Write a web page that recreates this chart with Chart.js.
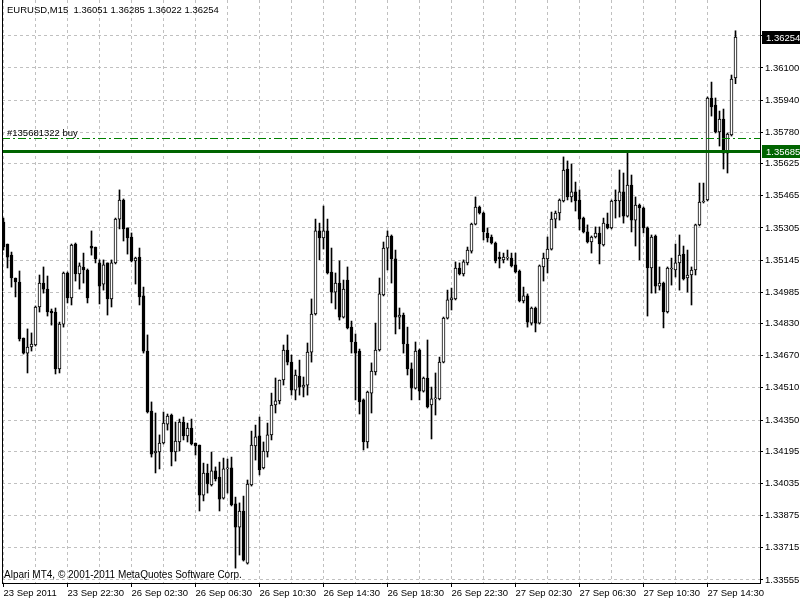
<!DOCTYPE html>
<html>
<head>
<meta charset="utf-8">
<title>EURUSD,M15</title>
<script src="https://cdn.jsdelivr.net/npm/chart.js@4.4.1/dist/chart.umd.min.js"></script>
<style>
  html, body { margin: 0; padding: 0; background: #fff; }
  canvas { display: block; }
</style>
</head>
<body>
<canvas id="chart" width="800" height="600"></canvas>
<script>
// EURUSD M15 candles, 23 Sep 2011 18:30 -> 27 Sep 2011 16:15
const timeLabels = ['23 Sep 2011', '23 Sep 22:30', '26 Sep 02:30', '26 Sep 06:30', '26 Sep 10:30', '26 Sep 14:30',
  '26 Sep 18:30', '26 Sep 22:30', '27 Sep 02:30', '27 Sep 06:30', '27 Sep 10:30', '27 Sep 14:30'];
const priceTicks = [1.33555, 1.33715, 1.33875, 1.34035, 1.34195, 1.34350, 1.34510, 1.34670, 1.34830,
  1.34985, 1.35145, 1.35305, 1.35465, 1.35625, 1.35780, 1.35940, 1.36100, 1.36260];

const opens = [
  1.35334, 1.35225, 1.35170, 1.35056, 1.35036, 1.34758, 1.34683, 1.34713, 1.34723, 1.34912,
  1.35031, 1.35001, 1.34892, 1.34887, 1.34604, 1.34827, 1.35081, 1.34957, 1.35225, 1.35076,
  1.35111, 1.35096, 1.35215, 1.35210, 1.35131, 1.35026, 1.35131, 1.34952, 1.35131, 1.35349,
  1.35444, 1.35305, 1.35260, 1.35141, 1.35160, 1.34967, 1.34693, 1.34395, 1.34186, 1.34191,
  1.34236, 1.34330, 1.34375, 1.34191, 1.34241, 1.34340, 1.34271, 1.34310, 1.34236, 1.34226,
  1.33977, 1.34087, 1.34027, 1.34097, 1.34067, 1.33962, 1.34107, 1.34112, 1.33933, 1.33818,
  1.33898, 1.33639, 1.34027, 1.34221, 1.34271, 1.34112, 1.34191, 1.34276, 1.34425, 1.34445,
  1.34549, 1.34698, 1.34638, 1.34499, 1.34569, 1.34514, 1.34524, 1.34688, 1.34877, 1.35290,
  1.35255, 1.35290, 1.35086, 1.34986, 1.35031, 1.34862, 1.35046, 1.34812, 1.34738, 1.34693,
  1.34450, 1.34241, 1.34484, 1.34589, 1.34698, 1.34972, 1.35205, 1.35265, 1.35151, 1.34862,
  1.34872, 1.34728, 1.34604, 1.34509, 1.34698, 1.34494, 1.34559, 1.34425, 1.34455, 1.34455,
  1.34638, 1.34857, 1.34947, 1.34952, 1.35106, 1.35076, 1.35131, 1.35190, 1.35324, 1.35409,
  1.35379, 1.35280, 1.35260, 1.35230, 1.35160, 1.35146, 1.35155, 1.35155, 1.35121, 1.35091,
  1.34942, 1.34967, 1.34832, 1.34907, 1.34832, 1.35111, 1.35151, 1.35200, 1.35349, 1.35379,
  1.35439, 1.35598, 1.35459, 1.35484, 1.35444, 1.35354, 1.35285, 1.35235, 1.35260, 1.35280,
  1.35220, 1.35324, 1.35305, 1.35444, 1.35439, 1.35484, 1.35364, 1.35518, 1.35344, 1.35419,
  1.35404, 1.35305, 1.35106, 1.35265, 1.35016, 1.35031, 1.34887, 1.35101, 1.35096, 1.35131,
  1.35175, 1.35056, 1.35071, 1.35096, 1.35320, 1.35434, 1.35444, 1.35951, 1.35916, 1.35782,
  1.35846, 1.35677, 1.35767, 1.36051
];
const highs = [
  1.35354, 1.35225, 1.35185, 1.35056, 1.35091, 1.34758, 1.34803, 1.34783, 1.34917, 1.35071,
  1.35111, 1.35066, 1.34902, 1.34907, 1.34837, 1.35086, 1.35086, 1.35225, 1.35230, 1.35131,
  1.35180, 1.35101, 1.35290, 1.35210, 1.35146, 1.35146, 1.35131, 1.35146, 1.35354, 1.35494,
  1.35449, 1.35305, 1.35280, 1.35160, 1.35205, 1.35011, 1.34773, 1.34440, 1.34385, 1.34276,
  1.34390, 1.34380, 1.34380, 1.34340, 1.34355, 1.34365, 1.34335, 1.34355, 1.34236, 1.34226,
  1.34136, 1.34131, 1.34191, 1.34117, 1.34141, 1.34161, 1.34156, 1.34166, 1.33967, 1.33938,
  1.33972, 1.34052, 1.34295, 1.34325, 1.34365, 1.34241, 1.34335, 1.34484, 1.34559, 1.34549,
  1.34723, 1.34773, 1.34673, 1.34599, 1.34648, 1.34564, 1.34733, 1.34952, 1.35349, 1.35329,
  1.35414, 1.35349, 1.35205, 1.35081, 1.35141, 1.35046, 1.35111, 1.34842, 1.34778, 1.34703,
  1.34455, 1.34494, 1.34634, 1.34832, 1.35056, 1.35235, 1.35290, 1.35270, 1.35195, 1.34907,
  1.34882, 1.34812, 1.34634, 1.34738, 1.34703, 1.34564, 1.34748, 1.34514, 1.34584, 1.34663,
  1.34862, 1.34996, 1.35006, 1.35136, 1.35131, 1.35146, 1.35210, 1.35329, 1.35459, 1.35414,
  1.35384, 1.35305, 1.35270, 1.35235, 1.35185, 1.35180, 1.35195, 1.35180, 1.35180, 1.35096,
  1.35011, 1.34977, 1.34912, 1.34912, 1.35121, 1.35180, 1.35260, 1.35384, 1.35389, 1.35449,
  1.35658, 1.35638, 1.35623, 1.35533, 1.35494, 1.35359, 1.35320, 1.35265, 1.35310, 1.35310,
  1.35354, 1.35379, 1.35444, 1.35494, 1.35593, 1.35578, 1.35687, 1.35568, 1.35459, 1.35424,
  1.35409, 1.35310, 1.35270, 1.35270, 1.35111, 1.35036, 1.35111, 1.35155, 1.35225, 1.35270,
  1.35215, 1.35195, 1.35111, 1.35324, 1.35528, 1.35528, 1.35956, 1.36030, 1.35951, 1.35886,
  1.35896, 1.35777, 1.36065, 1.36285
];
const lows = [
  1.35195, 1.35106, 1.35011, 1.34962, 1.34743, 1.34678, 1.34584, 1.34693, 1.34718, 1.34887,
  1.34981, 1.34867, 1.34822, 1.34579, 1.34584, 1.34812, 1.34932, 1.34922, 1.35041, 1.35001,
  1.35031, 1.34932, 1.35170, 1.35131, 1.34927, 1.34996, 1.34872, 1.34912, 1.35126, 1.35300,
  1.35240, 1.35175, 1.35136, 1.35026, 1.34922, 1.34683, 1.34385, 1.34166, 1.34087, 1.34107,
  1.34231, 1.34300, 1.34122, 1.34146, 1.34196, 1.34251, 1.34241, 1.34226, 1.34176, 1.33898,
  1.33948, 1.33987, 1.34022, 1.34047, 1.33898, 1.33957, 1.33987, 1.33923, 1.33614, 1.33679,
  1.33649, 1.33634, 1.34022, 1.34151, 1.34077, 1.34107, 1.34166, 1.34251, 1.34385, 1.34430,
  1.34524, 1.34624, 1.34474, 1.34450, 1.34474, 1.34465, 1.34474, 1.34638, 1.34872, 1.35146,
  1.35200, 1.35076, 1.34932, 1.34902, 1.34847, 1.34857, 1.34803, 1.34683, 1.34450, 1.34380,
  1.34201, 1.34211, 1.34385, 1.34574, 1.34693, 1.34967, 1.35096, 1.35031, 1.34778, 1.34803,
  1.34683, 1.34574, 1.34450, 1.34504, 1.34450, 1.34489, 1.34410, 1.34256, 1.34375, 1.34450,
  1.34634, 1.34852, 1.34897, 1.34947, 1.35071, 1.35066, 1.35121, 1.35180, 1.35320, 1.35374,
  1.35245, 1.35235, 1.35225, 1.35131, 1.35106, 1.35131, 1.35146, 1.35111, 1.35081, 1.34937,
  1.34932, 1.34812, 1.34822, 1.34788, 1.34827, 1.35041, 1.35081, 1.35195, 1.35305, 1.35344,
  1.35434, 1.35444, 1.35434, 1.35389, 1.35295, 1.35280, 1.35230, 1.35180, 1.35255, 1.35126,
  1.35215, 1.35300, 1.35300, 1.35354, 1.35359, 1.35329, 1.35359, 1.35285, 1.35215, 1.35146,
  1.35280, 1.34867, 1.34981, 1.34981, 1.34996, 1.34808, 1.34882, 1.35021, 1.35061, 1.34996,
  1.35046, 1.34986, 1.34922, 1.35071, 1.35315, 1.35429, 1.35439, 1.35861, 1.35777, 1.35712,
  1.35598, 1.35578, 1.35762, 1.36022
];
const closes = [
  1.35210, 1.35160, 1.35056, 1.35036, 1.34753, 1.34683, 1.34713, 1.34728, 1.34912, 1.35031,
  1.35001, 1.34887, 1.34882, 1.34604, 1.34827, 1.35081, 1.34957, 1.35220, 1.35076, 1.35116,
  1.35096, 1.34957, 1.35205, 1.35151, 1.35016, 1.35121, 1.34952, 1.35131, 1.35349, 1.35444,
  1.35300, 1.35255, 1.35141, 1.35155, 1.34962, 1.34693, 1.34390, 1.34181, 1.34196, 1.34236,
  1.34335, 1.34370, 1.34191, 1.34246, 1.34340, 1.34271, 1.34310, 1.34231, 1.34221, 1.33977,
  1.34087, 1.34032, 1.34097, 1.34057, 1.33957, 1.34107, 1.34112, 1.33928, 1.33818, 1.33898,
  1.33654, 1.34032, 1.34226, 1.34266, 1.34102, 1.34196, 1.34276, 1.34425, 1.34445, 1.34549,
  1.34698, 1.34638, 1.34499, 1.34574, 1.34514, 1.34524, 1.34688, 1.34877, 1.35290, 1.35255,
  1.35290, 1.35081, 1.34986, 1.35031, 1.34862, 1.35001, 1.34808, 1.34738, 1.34683, 1.34440,
  1.34241, 1.34489, 1.34594, 1.34698, 1.34977, 1.35205, 1.35265, 1.35151, 1.34862, 1.34872,
  1.34728, 1.34604, 1.34509, 1.34693, 1.34494, 1.34559, 1.34415, 1.34455, 1.34460, 1.34638,
  1.34857, 1.34947, 1.34957, 1.35106, 1.35076, 1.35136, 1.35195, 1.35324, 1.35409, 1.35379,
  1.35285, 1.35255, 1.35230, 1.35141, 1.35151, 1.35160, 1.35160, 1.35116, 1.35086, 1.34942,
  1.34967, 1.34837, 1.34907, 1.34832, 1.35116, 1.35155, 1.35200, 1.35349, 1.35379, 1.35444,
  1.35593, 1.35459, 1.35484, 1.35439, 1.35349, 1.35285, 1.35235, 1.35260, 1.35280, 1.35225,
  1.35329, 1.35305, 1.35439, 1.35439, 1.35484, 1.35364, 1.35518, 1.35344, 1.35419, 1.35404,
  1.35305, 1.35106, 1.35260, 1.35016, 1.35031, 1.34887, 1.35106, 1.35106, 1.35131, 1.35170,
  1.35051, 1.35071, 1.35096, 1.35320, 1.35434, 1.35439, 1.35951, 1.35906, 1.35782, 1.35846,
  1.35677, 1.35772, 1.36045, 1.36254
];

const levelPrice = 1.35685;      // horizontal line
const orderPrice = 1.35752;      // open order line
const orderText = '#135681322 buy';
const symbolText = 'EURUSD,M15';
const footerText = 'Alpari MT4, \u00A9 2001-2011 MetaQuotes Software Corp.';

const FONT = '"Liberation Sans", Arial, sans-serif';
const last = closes.length - 1;
const headerText = symbolText + '  ' + [opens[last], highs[last], lows[last], closes[last]]
  .map(v => v.toFixed(5)).join(' ');

function priceBox(ctx, scale, value, fill, x0, x1) {
  const py = Math.round(scale.getPixelForValue(value));
  ctx.fillStyle = fill;
  ctx.fillRect(x0, py - 6, x1 - x0, 13);
  ctx.fillStyle = '#fff';
  ctx.font = '9.5px ' + FONT;
  ctx.textAlign = 'left';
  ctx.textBaseline = 'middle';
  ctx.fillText(value.toFixed(5), x0 + 4, py + 1);
}

const mt4Plugin = {
  id: 'mt4',
  beforeDraw(chart) {
    const ctx = chart.ctx;
    ctx.save();
    ctx.fillStyle = '#fff';
    ctx.fillRect(0, 0, chart.width, chart.height);
    ctx.restore();
  },
  afterDatasetsDraw(chart) {
    const {ctx, chartArea: a, scales: {y}} = chart;
    ctx.save();
    // order line (dash-dot)
    let py = Math.round(y.getPixelForValue(orderPrice)) + 0.5;
    ctx.strokeStyle = '#008000';
    ctx.lineWidth = 1;
    ctx.setLineDash([8, 3, 2, 3]);
    ctx.beginPath();
    ctx.moveTo(a.left, py);
    ctx.lineTo(a.right, py);
    ctx.stroke();
    // horizontal level
    py = Math.round(y.getPixelForValue(levelPrice)) + 0.5;
    ctx.setLineDash([]);
    ctx.strokeStyle = '#006400';
    ctx.lineWidth = 3;
    ctx.beginPath();
    ctx.moveTo(a.left, py);
    ctx.lineTo(a.right, py);
    ctx.stroke();
    // left frame
    ctx.strokeStyle = '#000';
    ctx.lineWidth = 1;
    ctx.beginPath();
    ctx.moveTo(a.left + 0.5, a.top);
    ctx.lineTo(a.left + 0.5, a.bottom);
    ctx.stroke();
    ctx.restore();
  },
  afterDraw(chart) {
    const {ctx, chartArea: a, scales: {y}} = chart;
    ctx.save();
    ctx.fillStyle = '#000';
    ctx.textAlign = 'left';
    ctx.textBaseline = 'alphabetic';
    ctx.font = '9.5px ' + FONT;
    ctx.fillText(headerText, 7, 13);
    ctx.fillText(orderText, 7, Math.round(y.getPixelForValue(orderPrice)) - 2);
    ctx.font = '10px ' + FONT;
    ctx.fillText(footerText, 4, 578);
    priceBox(ctx, y, closes[last], '#000', a.right + 2, chart.width);
    priceBox(ctx, y, levelPrice, '#006400', a.right + 2, chart.width);
    ctx.restore();
  }
};

const xTicks = [];
for (let i = 0; i < closes.length; i += 8) xTicks.push(i);

new Chart(document.getElementById('chart'), {
  type: 'bar',
  data: {
    datasets: [{
      label: 'body',
      data: opens.map((o, i) => ({x: i, y: [o, closes[i]]})),
      backgroundColor: c => closes[c.dataIndex] >= opens[c.dataIndex] ? '#fff' : '#000',
      borderColor: '#000',
      borderWidth: 1,
      borderSkipped: false,
      barThickness: 3,
      grouped: false
    }, {
      label: 'wick',
      data: lows.map((l, i) => ({x: i, y: [l, highs[i]]})),
      backgroundColor: '#000',
      borderWidth: 0,
      barThickness: 1,
      grouped: false
    }]
  },
  options: {
    responsive: false,
    animation: false,
    devicePixelRatio: 1,
    layout: {padding: {left: 2, top: 0, right: 0, bottom: 0}},
    plugins: {legend: {display: false}, tooltip: {enabled: false}},
    scales: {
      x: {
        type: 'linear',
        min: -0.375,
        max: 189.125,
        offset: false,
        afterBuildTicks: s => { s.ticks = xTicks.map(v => ({value: v})); },
        afterFit: s => { s.height = 17; s.paddingLeft = 0; s.paddingRight = 0; },
        grid: {
          offset: false,
          color: '#c0c0c0',
          tickLength: 4,
          tickColor: c => (c.tick && c.tick.value % 16 === 0) ? '#000' : 'rgba(0,0,0,0)'
        },
        border: {display: true, color: '#000', dash: [3, 3]},
        ticks: {
          autoSkip: false,
          maxRotation: 0,
          align: 'start',
          padding: 1,
          color: '#000',
          font: {family: FONT, size: 9.5},
          callback: v => v % 16 === 0 ? timeLabels[v / 16] : ''
        }
      },
      y: {
        type: 'linear',
        position: 'right',
        min: 1.33540,
        max: 1.36438,
        afterBuildTicks: s => { s.ticks = priceTicks.map(v => ({value: v})); },
        afterFit: s => { s.width = 40; s.paddingTop = 0; s.paddingBottom = 0; },
        grid: {color: '#c0c0c0', tickLength: 3, tickColor: '#000'},
        border: {display: true, color: '#000', dash: [3, 3]},
        ticks: {
          padding: 2,
          color: '#000',
          font: {family: FONT, size: 9.5},
          callback: v => v.toFixed(5)
        }
      }
    }
  },
  plugins: [mt4Plugin]
});
</script>
</body>
</html>
